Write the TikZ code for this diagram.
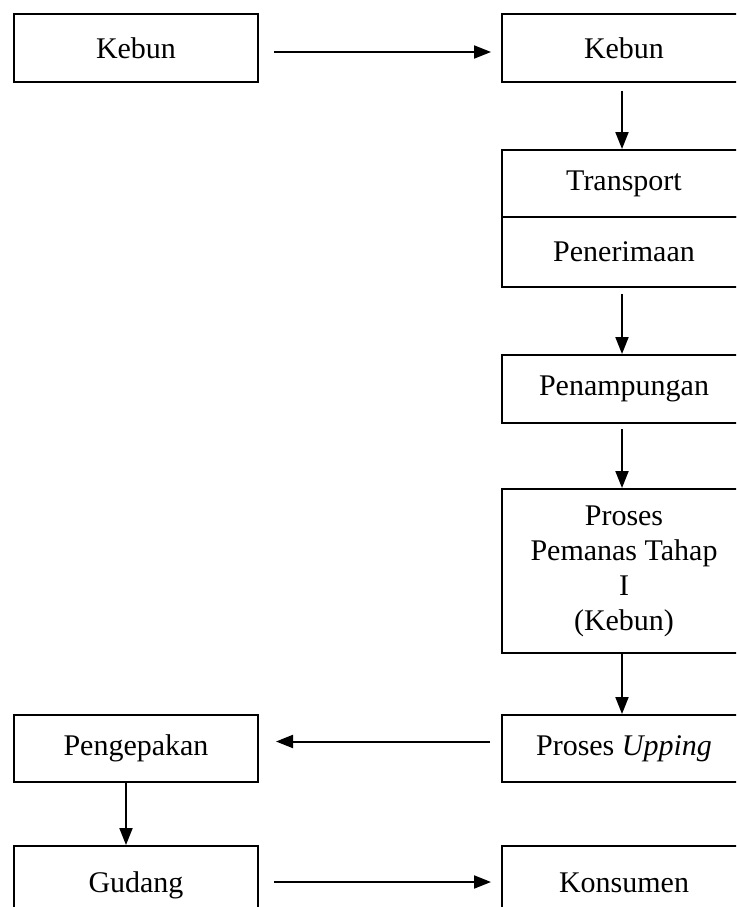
\documentclass[tikz,border=0pt]{standalone}
\usepackage{fontspec}
\setmainfont{Liberation Serif}
\usetikzlibrary{arrows.meta}
\begin{document}
\begin{tikzpicture}[x=1pt,y=-1pt,
  box/.style={draw, line width=2pt, minimum width=244pt, inner sep=0pt, align=center,
    font=\fontsize{30}{35}\selectfont},
  strutbox/.style={text height=26pt, text depth=2pt},
  arr/.style={line width=2pt, -{Triangle[length=17pt,width=13pt]}}]
\clip (0,0) rectangle (736,907);
\node[box, minimum height=68pt] (k1) at (136,48) {Kebun};
\node[box, minimum height=68pt] (k2) at (624,48) {Kebun};
\node[box, minimum height=67pt] (tr) at (624,183.5) {Transport};
\node[box, minimum height=70pt] (pn) at (624,252) {Penerimaan};
\node[box, minimum height=68pt] (pm) at (624,389) {Penampungan};
\node[box, minimum height=164pt] (pr) at (624,571) {Proses\\Pemanas Tahap\\I\\(Kebun)};
\node[box, minimum height=67pt] (up) at (624,748.5) {Proses \textit{Upping}};
\node[box, minimum height=67pt] (pk) at (136,748.5) {Pengepakan};
\node[box, strutbox, minimum height=68pt] (gd) at (136,880) {Gudang};
\node[box, strutbox, minimum height=68pt] (ks) at (624,880) {Konsumen};
\draw[arr, shorten <=15pt, shorten >=10pt] ([yshift=-4pt]k1.east) -- ([yshift=-4pt]k2.west);
\draw[arr, shorten <=8pt] ([xshift=-2pt]k2.south) -- ([xshift=-2pt]tr.north);
\draw[arr, shorten <=6pt] ([xshift=-2pt]pn.south) -- ([xshift=-2pt]pm.north);
\draw[arr, shorten <=5pt] ([xshift=-2pt]pm.south) -- ([xshift=-2pt]pr.north);
\draw[arr] ([xshift=-2pt]pr.south) -- ([xshift=-2pt]up.north);
\draw[arr, shorten <=11pt, shorten >=17pt] ([yshift=7pt]up.west) -- ([yshift=7pt]pk.east);
\draw[arr] ([xshift=-10pt]pk.south) -- ([xshift=-10pt]gd.north);
\draw[arr, shorten <=15pt, shorten >=10pt] ([yshift=-2pt]gd.east) -- ([yshift=-2pt]ks.west);
\end{tikzpicture}
\end{document}
